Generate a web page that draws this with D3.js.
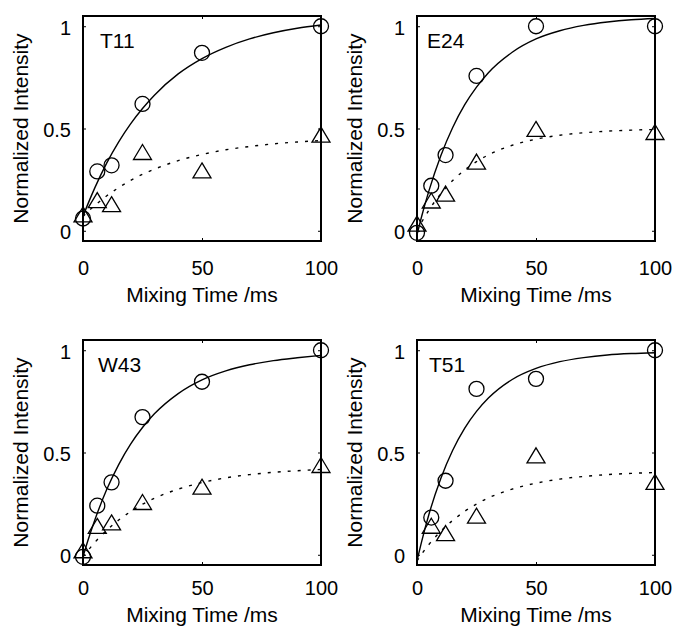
<!DOCTYPE html>
<html><head><meta charset="utf-8">
<script src="https://cdn.jsdelivr.net/npm/d3@7"></script>
<style>body{margin:0;background:#fff}svg{display:block}</style>
</head><body><svg id="c" width="675" height="630"></svg>
<script>
// ---------- data ----------
const panelNames = ["T11", "E24", "W43", "T51"];
const mixTimes = [0, 6, 12, 25, 50, 100];
const xTickValues = [0, 50, 100];
const yTickValues = [0, 0.5, 1];
const xTitle = "Mixing Time /ms";
const yTitle = "Normalized Intensity";

const circles_T11 = [0.06, 0.29, 0.32, 0.62, 0.87, 1.0];
const triangles_T11 = [0.08, 0.15, 0.13, 0.385, 0.295, 0.47];
const circles_E24 = [-0.01, 0.22, 0.37, 0.757, 1.0, 1.0];
const triangles_E24 = [0.035, 0.148, 0.182, 0.338, 0.498, 0.483];
const circles_W43 = [-0.01, 0.24, 0.354, 0.673, 0.846, 1.0];
const triangles_W43 = [0.022, 0.141, 0.158, 0.258, 0.333, 0.439];
const circles_T51 = [null, 0.182, 0.362, 0.811, 0.86, 1.0];
const triangles_T51 = [null, 0.142, 0.106, 0.191, 0.486, 0.356];

// fitted curves at these times
const fitTimes = [0, 2, 5, 10, 15, 20, 25, 30, 40, 50, 60, 70, 80, 90, 100];
const solid_T11 = [0.07, 0.129, 0.211, 0.332, 0.435, 0.523, 0.598, 0.663, 0.767, 0.842, 0.897, 0.938, 0.968, 0.990, 1.006];
const dotted_T11 = [0.07, 0.093, 0.124, 0.171, 0.211, 0.246, 0.276, 0.301, 0.343, 0.373, 0.396, 0.412, 0.425, 0.434, 0.441];
const solid_E24 = [-0.02, 0.072, 0.195, 0.367, 0.505, 0.615, 0.702, 0.773, 0.873, 0.938, 0.978, 1.004, 1.021, 1.032, 1.038];
const dotted_E24 = [0, 0.043, 0.101, 0.181, 0.246, 0.297, 0.338, 0.371, 0.418, 0.448, 0.467, 0.479, 0.487, 0.492, 0.495];
const solid_W43 = [-0.01, 0.067, 0.171, 0.320, 0.441, 0.541, 0.622, 0.689, 0.788, 0.855, 0.899, 0.929, 0.949, 0.963, 0.975];
const dotted_W43 = [-0.01, 0.020, 0.061, 0.120, 0.170, 0.211, 0.247, 0.276, 0.321, 0.353, 0.376, 0.392, 0.403, 0.411, 0.417];
const solid_T51 = [-0.03, 0.067, 0.197, 0.373, 0.511, 0.618, 0.701, 0.766, 0.857, 0.911, 0.944, 0.964, 0.977, 0.984, 0.988];
const dotted_T51 = [-0.03, 0.004, 0.050, 0.115, 0.168, 0.212, 0.248, 0.278, 0.321, 0.350, 0.370, 0.383, 0.392, 0.398, 0.402];

const panelData = [
  {circles: circles_T11, triangles: triangles_T11, solid: solid_T11, dotted: dotted_T11},
  {circles: circles_E24, triangles: triangles_E24, solid: solid_E24, dotted: dotted_E24},
  {circles: circles_W43, triangles: triangles_W43, solid: solid_W43, dotted: dotted_W43},
  {circles: circles_T51, triangles: triangles_T51, solid: solid_T51, dotted: dotted_T51}
];

// ---------- layout ----------
const colLefts = [83, 417], rowTops = [16, 340];
const pw = 238, ph = 225;
const labelDx = [17, 10, 15, 12];
const xTickPad = [19.3, 15.5];
const xTitleDy = [61, 57];
const FONT = "'Liberation Sans', Arial, Helvetica, sans-serif";

const svg = d3.select("#c");

panelNames.forEach((name, i) => {
  const row = Math.floor(i / 2);
  const left = colLefts[i % 2], top = rowTops[row];
  const d = panelData[i];
  const x = d3.scaleLinear().domain([0, 100]).range([0, pw]);
  const y = d3.scaleLinear().domain([-0.05, 1.05]).range([ph, 0]);
  const g = svg.append("g").attr("transform", `translate(${left},${top})`);

  // axes (inward ticks)
  const ax = (sel) => { sel.select(".domain").remove(); sel.selectAll("line").attr("stroke", "#000").attr("stroke-width", 1);
    sel.selectAll("text").attr("fill", "#000").style("font-family", FONT).style("font-size", "20px"); };
  g.append("g").call(d3.axisLeft(y).tickValues(yTickValues).tickFormat(d3.format("")).tickSizeInner(-3).tickSizeOuter(0).tickPadding(12)).call(ax)
    .selectAll("text").attr("dy", "0.4em");
  g.append("g").attr("transform", `translate(${pw},0)`).call(d3.axisRight(y).tickValues(yTickValues).tickFormat("").tickSizeInner(-3).tickSizeOuter(0)).call(ax);
  g.append("g").attr("transform", `translate(0,${ph})`).call(d3.axisBottom(x).tickValues(xTickValues).tickFormat(d3.format("")).tickSizeInner(-3).tickSizeOuter(0).tickPadding(xTickPad[row])).call(ax);
  g.append("g").call(d3.axisTop(x).tickValues(xTickValues).tickFormat("").tickSizeInner(-3).tickSizeOuter(0)).call(ax);

  // frame
  g.append("rect").attr("x", 0).attr("y", 0).attr("width", pw).attr("height", ph)
    .attr("fill", "none").attr("stroke", "#000").attr("stroke-width", 2);

  // fit lines
  const line = (vals) => d3.line().curve(d3.curveMonotoneX).x((t) => x(t)).y((t, k) => y(vals[k]))(fitTimes);
  g.append("path").attr("d", line(d.solid)).attr("fill", "none").attr("stroke", "#000").attr("stroke-width", 1.4);
  g.append("path").attr("d", line(d.dotted)).attr("fill", "none").attr("stroke", "#000").attr("stroke-width", 1.4)
    .attr("stroke-dasharray", "3,7");

  // markers
  const cpts = mixTimes.map((t, k) => [t, d.circles[k]]).filter(p => p[1] != null);
  g.selectAll("circle.pt").data(cpts).join("circle").attr("class", "pt")
    .attr("cx", p => x(p[0])).attr("cy", p => y(p[1])).attr("r", 7.5)
    .attr("fill", "none").attr("stroke", "#000").attr("stroke-width", 1.3);
  const tpts = mixTimes.map((t, k) => [t, d.triangles[k]]).filter(p => p[1] != null);
  g.selectAll("path.tri").data(tpts).join("path").attr("class", "tri")
    .attr("d", p => { const cx = x(p[0]), cy = y(p[1]); return `M${cx},${cy - 7.5}L${cx + 9},${cy + 7.5}L${cx - 9},${cy + 7.5}Z`; })
    .attr("fill", "none").attr("stroke", "#000").attr("stroke-width", 1.3).attr("stroke-linejoin", "miter");

  // panel label
  g.append("text").attr("x", labelDx[i]).attr("y", 32).text(name)
    .style("font-family", FONT).style("font-size", "21px").attr("fill", "#000");

  // titles
  g.append("text").attr("x", pw / 2).attr("y", ph + xTitleDy[row]).attr("text-anchor", "middle").text(xTitle)
    .style("font-family", FONT).style("font-size", "21px").attr("fill", "#000");
  g.append("text").attr("transform", `translate(-55,${ph / 2}) rotate(-90)`).attr("text-anchor", "middle").text(yTitle)
    .style("font-family", FONT).style("font-size", "21px").attr("fill", "#000");
});
</script>
</body></html>
